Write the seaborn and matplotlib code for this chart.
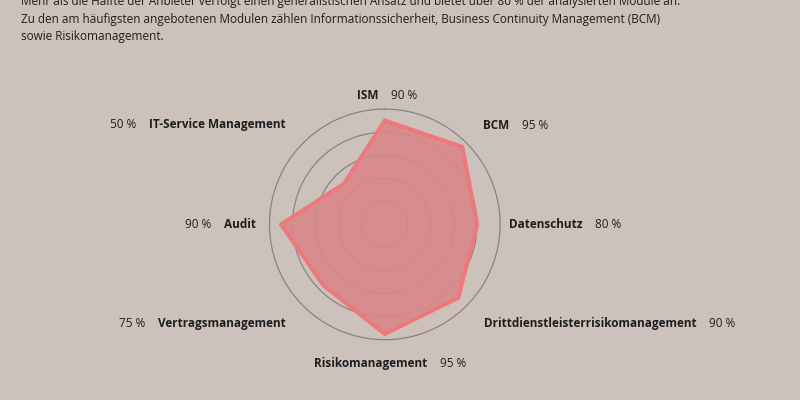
import numpy as np
import seaborn as sns
import matplotlib.pyplot as plt

modules = ["ISM", "BCM", "Datenschutz", "Drittdienstleisterrisikomanagement",
           "Risikomanagement", "Vertragsmanagement", "Audit", "IT-Service Management"]
shares = [90, 95, 80, 90, 95, 75, 90, 50]
rings = [20, 40, 60, 80, 100]

bg = "#cdc1bc"
sns.set_theme(style="white")
plt.rcParams["font.family"] = ["Open Sans", "DejaVu Sans"]

fig = plt.figure(figsize=(8, 4), dpi=100, facecolor=bg)
ax = fig.add_axes([0.334, 0.145, 0.294, 0.588], projection="polar")
ax.set_facecolor("none")
ax.set_theta_offset(np.pi / 2)
ax.set_theta_direction(-1)

angles = np.linspace(0, 2 * np.pi, len(modules), endpoint=False)
closed_a = np.append(angles, angles[0])
closed_v = np.append(shares, shares[0])
ax.fill(closed_a, closed_v, color="#d98888", alpha=0.9, zorder=2)
ax.plot(closed_a, closed_v, color="#ec7a7c", linewidth=3, zorder=3)

theta_full = np.linspace(0, 2 * np.pi, 200)
for r in rings:
    ax.plot(theta_full, np.full_like(theta_full, r), color="#8a8380", linewidth=0.9, zorder=1)

ax.set_ylim(0, 102)
ax.set_xticks([])
ax.set_yticks([])
ax.grid(False)
ax.spines["polar"].set_visible(False)

# label placement: radius, name offset (points), side
layout = [
    (112, (-12, 0), "center"),
    (121, (0, 0), "left"),
    (108, (0, 0), "left"),
    (122, (0, 0), "left"),
    (121, (-10, 0), "center"),
    (122, (0, 0), "right"),
    (112, (0, 0), "right"),
    (122, (0, 0), "right"),
]
for a, name, val, (r, off, side) in zip(angles, modules, shares, layout):
    ha = "center" if side == "center" else side
    t = ax.annotate(name, xy=(a, r), xytext=off, textcoords="offset points",
                    ha=ha, va="center", fontsize=8.5, fontweight="bold",
                    color="#1e1e1e", annotation_clip=False)
    if side == "right":
        ax.annotate(f"{val} %", xy=(0, 0.5), xycoords=t, xytext=(-9, 0),
                    textcoords="offset points", ha="right", va="center",
                    fontsize=8.5, color="#1e1e1e")
    else:
        ax.annotate(f"{val} %", xy=(1, 0.5), xycoords=t, xytext=(9, 0),
                    textcoords="offset points", ha="left", va="center",
                    fontsize=8.5, color="#1e1e1e")

intro = ("Mehr als die Hälfte der Anbieter verfolgt einen generalistischen Ansatz und bietet über 80 % der analysierten Module an.\n"
         "Zu den am häufigsten angebotenen Modulen zählen Informationssicherheit, Business Continuity Management (BCM)\n"
         "sowie Risikomanagement.")
fig.text(0.026, 1.012, intro, ha="left", va="top", fontsize=8.5, color="#1e1e1e",
         linespacing=1.45)

fig.savefig("out.png", dpi=100, facecolor=bg)
